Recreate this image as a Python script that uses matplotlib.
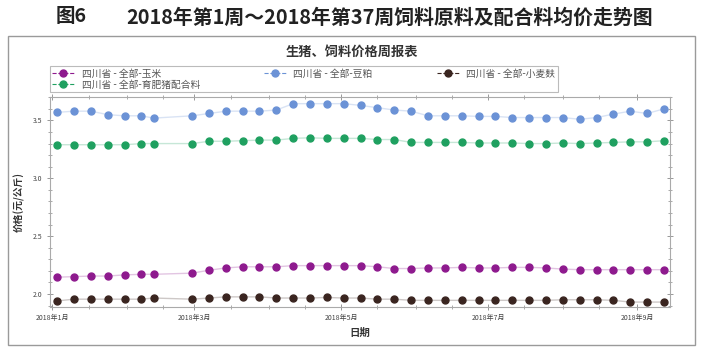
import numpy as np
import pandas as pd
import matplotlib
matplotlib.use("Agg")
import matplotlib.pyplot as plt
import matplotlib.dates as mdates
from matplotlib.patches import Rectangle

plt.rcParams['font.family'] = ['Noto Sans CJK SC', 'DejaVu Sans']

# weekly dates (spring festival week missing)
dates = ["2018-01-03", "2018-01-10", "2018-01-17", "2018-01-24", "2018-01-31",
         "2018-02-07", "2018-02-12", "2018-02-28", "2018-03-07", "2018-03-14",
         "2018-03-21", "2018-03-28", "2018-04-04", "2018-04-11", "2018-04-18",
         "2018-04-25", "2018-05-02", "2018-05-09", "2018-05-16", "2018-05-23",
         "2018-05-30", "2018-06-06", "2018-06-13", "2018-06-20", "2018-06-27",
         "2018-07-04", "2018-07-11", "2018-07-18", "2018-07-25", "2018-08-01",
         "2018-08-08", "2018-08-15", "2018-08-22", "2018-08-29", "2018-09-05",
         "2018-09-12"]

corn = [2.145, 2.15, 2.155, 2.155, 2.165, 2.17, 2.17,
        2.18, 2.205, 2.225, 2.235, 2.235, 2.235, 2.245, 2.245, 2.245, 2.245,
        2.245, 2.235, 2.22, 2.22, 2.225, 2.225, 2.23, 2.225, 2.225, 2.23,
        2.23, 2.225, 2.215, 2.21, 2.21, 2.21, 2.21, 2.21, 2.21]
soymeal = [3.57, 3.58, 3.58, 3.55, 3.54, 3.54, 3.52,
           3.54, 3.56, 3.58, 3.58, 3.58, 3.59, 3.645, 3.645, 3.645, 3.645,
           3.63, 3.61, 3.59, 3.58, 3.54, 3.54, 3.54, 3.535, 3.535, 3.525,
           3.525, 3.525, 3.525, 3.51, 3.525, 3.555, 3.58, 3.56, 3.60]
bran = [1.94, 1.955, 1.955, 1.955, 1.955, 1.955, 1.965,
        1.955, 1.965, 1.975, 1.975, 1.975, 1.965, 1.965, 1.965, 1.97, 1.965,
        1.965, 1.955, 1.955, 1.945, 1.945, 1.945, 1.945, 1.945, 1.945, 1.945,
        1.945, 1.945, 1.95, 1.95, 1.95, 1.945, 1.93, 1.93, 1.93]
feed = [3.29, 3.29, 3.29, 3.29, 3.29, 3.30, 3.30,
        3.30, 3.32, 3.32, 3.325, 3.33, 3.33, 3.345, 3.35, 3.345, 3.345,
        3.345, 3.335, 3.335, 3.31, 3.31, 3.31, 3.31, 3.305, 3.305, 3.305,
        3.30, 3.30, 3.305, 3.30, 3.305, 3.31, 3.315, 3.315, 3.325]

labels = ["四川省 - 全部-玉米", "四川省 - 全部-育肥猪配合料",
          "四川省 - 全部-豆粕", "四川省 - 全部-小麦麸"]
colors = ["#8e1a8e", "#1fa060", "#6b92d6", "#3a2520"]

x = pd.to_datetime(dates)

fig = plt.figure(figsize=(7.03, 3.54), dpi=100)
fig.patches.append(Rectangle((8/703, 1-345/354), 687/703, 309/354,
                             transform=fig.transFigure, fill=False,
                             edgecolor="#9a9a9a", linewidth=1.0))

fig.text(56/703, 1-17/354, "图6", fontsize=14, fontweight="bold",
         ha="left", va="center", color="#222222")
fig.text(126/703, 1-17/354, "2018年第1周～2018年第37周饲料原料及配合料均价走势图",
         fontsize=14.3, fontweight="bold", ha="left", va="center", color="#222222")
fig.text(0.5, 1-52/354, "生猪、饲料价格周报表", fontsize=9.5, fontweight="bold",
         ha="center", va="center", color="#333333")

ax = fig.add_axes([50/703, 1-306.7/354, 620/703, 209.4/354])

for ys, lab, c in zip([corn, feed, soymeal, bran], labels, colors):
    ax.plot(x, ys, color=c, linewidth=0, marker="o", markersize=5,
            label=lab, zorder=3)
    ax.plot(x, ys, color=c, linewidth=1.0, alpha=0.25, zorder=2)

ax.set_ylim(1.89, 3.70)
ax.set_xlim(pd.Timestamp("2017-12-31"), pd.Timestamp("2018-09-14 12:00"))
ax.set_yticks([2.0, 2.5, 3.0, 3.5])
ax.set_yticklabels(["2.0", "2.5", "3.0", "3.5"])
ax.yaxis.set_minor_locator(plt.MultipleLocator(0.1))
ax.xaxis.set_major_locator(mdates.MonthLocator(bymonth=[1, 3, 5, 7, 9]))
ax.xaxis.set_major_formatter(plt.FuncFormatter(
    lambda v, p: "%d年%d月" % (mdates.num2date(v).year, mdates.num2date(v).month)))
ax.xaxis.set_minor_locator(mdates.DayLocator(bymonthday=[1, 16]))
ax.tick_params(which="both", direction="inout", top=True, right=True,
               colors="#888888", labelcolor="#444444", labelsize=5)
ax.tick_params(which="major", length=4, width=0.6)
ax.tick_params(which="minor", length=2.5, width=0.5)
for s in ax.spines.values():
    s.set_color("#aaaaaa")
    s.set_linewidth(0.8)

ax.set_ylabel("价格(元/公斤)", fontsize=7, fontweight="bold", color="#333333",
              labelpad=6)
ax.set_xlabel("日期", fontsize=7.5, fontweight="bold", color="#333333",
              labelpad=4)

leg = ax.legend(loc="lower left", bbox_to_anchor=(0, 1.025, 0.819, 0.11),
                mode="expand", ncol=3, fontsize=7, frameon=True, fancybox=False,
                borderaxespad=0, handlelength=2.2, handletextpad=0.8,
                labelspacing=0.1, borderpad=0.25, labelcolor="#555555")
leg.get_frame().set_edgecolor("#aaaaaa")
leg.get_frame().set_linewidth(0.8)
for h, c in zip(leg.legend_handles, colors):
    h.set_linestyle("--")
    h.set_linewidth(0.8)
    h.set_alpha(None)

fig.savefig("out.png", dpi=100)
